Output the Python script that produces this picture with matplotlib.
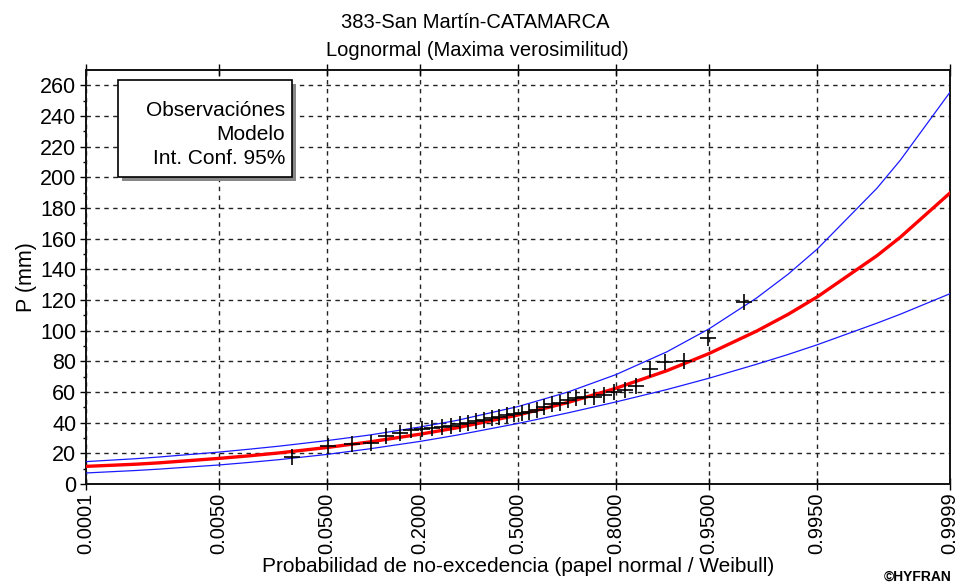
import numpy as np
import matplotlib
matplotlib.use("Agg")
import matplotlib.pyplot as plt
from matplotlib.patches import Rectangle
from statistics import NormalDist

# ---------------- data ----------------
# observations (sorted), plotted at Weibull positions i/(n+1)
obs_values = [17.5, 25, 26, 27, 31, 33, 35, 36, 36.5, 37, 38, 39, 40, 41, 42,
              43, 44, 45, 45.5, 46, 47, 48, 50, 52, 53, 55, 56, 56.5, 57, 58,
              60, 61, 64, 75, 79.5, 80, 95, 119]

# probabilities at which the model and its confidence band are drawn
curve_prob = [0.0001, 0.0005, 0.001, 0.005, 0.01, 0.02, 0.05, 0.1, 0.2, 0.3,
              0.5, 0.6667, 0.8, 0.9, 0.95, 0.98, 0.99, 0.995, 0.999, 0.9995, 0.9999]
model_vals = [11.5, 12.9, 13.8, 16.7, 18.3, 20.3, 23.8, 27.4, 32.5, 36.7,
              45.0, 53.2, 62.4, 73.9, 85.1, 99.7, 110.7, 122.0, 148.9, 160.9, 189.8]
upper_vals = [14.6, 16.5, 17.6, 20.8, 22.6, 24.7, 28.3, 31.9, 37.2, 41.5,
              50.5, 60.0, 71.3, 86.2, 101.2, 121.3, 136.9, 153.2, 192.9, 211.1, 255.5]
lower_vals = [7.2, 8.8, 9.7, 12.4, 14.0, 15.9, 19.3, 22.9, 27.8, 31.9,
              39.5, 46.4, 53.5, 61.6, 69.0, 78.1, 84.5, 90.8, 104.9, 110.7, 124.1]

xtick_prob = [0.0001, 0.005, 0.05, 0.2, 0.5, 0.8, 0.95, 0.995, 0.9999]
xtick_labels = ["0.0001", "0.0050", "0.0500", "0.2000", "0.5000", "0.8000",
                "0.9500", "0.9950", "0.9999"]
ytick_vals = list(range(0, 261, 20))

title1 = "383-San Martín-CATAMARCA"
title2 = "Lognormal (Maxima verosimilitud)"
xlabel = "Probabilidad de no-excedencia (papel normal / Weibull)"
ylabel = "P (mm)"
legend_lines = ["Observaciónes", "Modelo", "Int. Conf. 95%"]

# ---------------- normal probability scale ----------------
_nd = NormalDist()
_ppf = np.vectorize(lambda p: _nd.inv_cdf(min(max(p, 1e-12), 1 - 1e-12)),
                    otypes=[float])
_cdf = np.vectorize(_nd.cdf, otypes=[float])


def fwd(p):
    return _ppf(np.asarray(p, dtype=float))


def inv(z):
    return _cdf(np.asarray(z, dtype=float))


plt.rcParams['font.family'] = ['Liberation Sans', 'DejaVu Sans']

fig = plt.figure(figsize=(9.56, 5.86), dpi=100)
ax = fig.add_axes([86 / 956, 102 / 586, 864 / 956, 414 / 586])
ax.set_xscale('function', functions=(fwd, inv))
ax.set_xlim(0.0001, 0.9999)
ax.set_ylim(0, 270)

n = len(obs_values)
obs_prob = [(i + 1) / (n + 1) for i in range(n)]

ax.grid(True, which='major', color='#222222', linestyle=(0, (3.2, 3.2)), lw=1.0)
ax.set_axisbelow(True)

ax.plot(curve_prob, upper_vals, color='#1a1aff', lw=0.9, zorder=3)
ax.plot(curve_prob, lower_vals, color='#1a1aff', lw=0.9, zorder=3)
ax.plot(curve_prob, model_vals, color='#ff0000', lw=2.4, zorder=4)
ax.plot(obs_prob, obs_values, linestyle='none', marker='+', color='black',
        markersize=11, markeredgewidth=1.2, zorder=5)

ax.set_xticks(xtick_prob)
ax.set_xticklabels(xtick_labels, rotation=90, fontsize=14.5)
ax.xaxis.set_minor_locator(matplotlib.ticker.NullLocator())
ax.set_yticks(ytick_vals)
ax.set_yticklabels([str(v) for v in ytick_vals], fontsize=15.5)
ax.set_yticks(list(range(10, 270, 20)), minor=True)
ax.tick_params(axis='x', which='major', direction='inout', length=8, width=1,
               top=True, pad=2)
ax.tick_params(axis='y', which='major', direction='out', length=4, width=1, pad=3)
ax.tick_params(axis='y', which='minor', direction='out', length=2, width=1)

for s in ax.spines.values():
    s.set_linewidth(1.4)
    s.set_color('#111111')

ax.set_xlabel(xlabel, fontsize=15, labelpad=2)
ax.set_ylabel(ylabel, fontsize=15.5, labelpad=2)

fig.text(475 / 956, 1 - 23 / 586, title1, ha='center', va='center', fontsize=14.5)
fig.text(477 / 956, 1 - 50 / 586, title2, ha='center', va='center', fontsize=14.5)
fig.text(951 / 956, 1 - 577 / 586, "©HYFRAN", ha='right', va='center',
         fontsize=10, fontweight='bold')

# legend box (text only, with shadow)
W, H = 956, 586
bx0, by0, bx1, by1 = 118, 80, 292, 177
fig.patches.append(Rectangle(((bx0 + 4) / W, 1 - (by1 + 4) / H), (bx1 - bx0) / W,
                             (by1 - by0) / H, transform=fig.transFigure,
                             facecolor='#888888', edgecolor='none', zorder=10))
fig.patches.append(Rectangle((bx0 / W, 1 - by1 / H), (bx1 - bx0) / W,
                             (by1 - by0) / H, transform=fig.transFigure,
                             facecolor='white', edgecolor='black', lw=1.2, zorder=11))
for k, txt in enumerate(legend_lines):
    fig.text(285 / W, 1 - (110 + 24 * k) / H, txt, ha='right', va='center',
             fontsize=15, zorder=12)

fig.savefig("out.png", dpi=100)
